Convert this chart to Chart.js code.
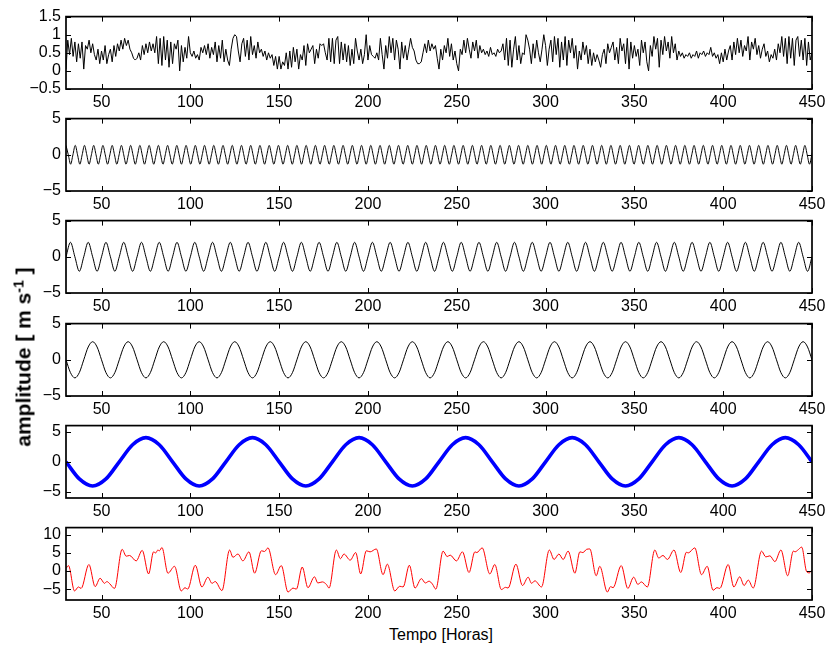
<!DOCTYPE html>
<html>
<head>
<meta charset="utf-8">
<script src="https://cdn.jsdelivr.net/npm/chart.js@4.4.1/dist/chart.umd.min.js"></script>
<style>
  html, body { margin: 0; padding: 0; background: #fff; }
  #wrap { position: relative; width: 831px; height: 650px; overflow: hidden;
          font-family: "Liberation Sans", Arial, Helvetica, sans-serif; color: #000; }
  #wrap canvas { position: absolute; left: 0; }
  #ylab { position: absolute; left: 23px; top: 357px; white-space: nowrap;
          transform: translate(-50%, -50%) rotate(-90deg);
          font-weight: bold; font-size: 21px; line-height: 21px; }
  #ylab sup { font-size: 14px; vertical-align: 7px; line-height: 0; }
  #xlab { position: absolute; left: 441px; top: 627px; white-space: nowrap;
          transform: translateX(-50%); font-size: 16px; line-height: 16px; }
</style>
</head>
<body>
<div id="wrap">
  <canvas id="p1" width="831" height="109"></canvas>
  <canvas id="p2" width="831" height="109"></canvas>
  <canvas id="p3" width="831" height="109"></canvas>
  <canvas id="p4" width="831" height="109"></canvas>
  <canvas id="p5" width="831" height="109"></canvas>
  <canvas id="p6" width="831" height="109"></canvas>
  <div id="ylab">amplitude [ m s<sup>-1</sup> ]</div>
  <div id="xlab">Tempo [Horas]</div>
</div>
<script>
// ---------- time axis ----------
const hourMin = 30;
const hourMax = 450;
const xTicks = [50, 100, 150, 200, 250, 300, 350, 400, 450];
const xTickLabels = ['50', '100', '150', '200', '250', '300', '350', '400', '450'];

// ---------- panel 1: hourly noise (30 h .. 450 h) ----------
const noiseStart = 30, noiseStep = 1;
const noiseValues = [
  0.05, 0.85, 0.45, 0.9, 0.4, 0.8, 0.25, 0.75, 0.35, 0.8,
  0.05, 0.7, 0.6, 0.85, 0.5, 0.75, 0.45, 0.3, 0.6, 0.2,
  0.55, 0.3, 0.7, 0.2, 0.45, 0.6, 0.25, 0.7, 0.4, 0.75,
  0.55, 0.85, 0.6, 0.9, 0.7, 0.85, 0.6, 0.5, 0.35, 0.3,
  0.35, 0.5, 0.3, 0.7, 0.45, 0.75, 0.5, 0.8, 0.55, 0.75,
  0.5, 0.95, 0.2, 0.9, 0.15, 0.95, 0.3, 0.85, 0.1, 0.8,
  0.2, 0.75, 0.6, 0.85, 0.0, 0.7, 0.25, 0.65, 0.35, 0.95,
  0.5, 0.4, 0.55, 0.35, 0.45, 0.3, 0.65, 0.5, 0.7, 0.45,
  0.75, 0.35, 0.65, 0.45, 0.8, 0.25, 0.7, 0.35, 0.85, 0.25,
  0.6, 0.3, 0.15, 0.6, 0.9, 1.0, 0.95, 0.55, 0.25, 0.75,
  0.9, 0.4, 0.85, 0.3, 0.95, 0.45, 0.7, 0.35, 0.8, 0.5,
  0.6, 0.4, 0.55, 0.3, 0.5, 0.35, 0.45, 0.15, 0.4, 0.05,
  0.4, 0.05, 0.25, 0.15, 0.5, 0.05, 0.55, 0.1, 0.65, 0.25,
  0.6, 0.05, 0.45, 0.3, 0.7, 0.15, 0.75, 0.5, 0.6, 0.7,
  0.2, 0.6, 0.35, 0.75, 0.7, 0.75, 0.5, 0.3, 0.9, 0.25,
  0.9, 0.2, 0.85, 0.95, 0.2, 0.8, 0.3, 0.75, 0.25, 0.7,
  0.15, 0.6, 0.2, 0.9, 0.55, 0.3, 0.6, 0.2, 0.45, 1.0,
  0.3, 0.7, 0.45, 0.4, 0.35, 0.5, 0.3, 0.9, 0.45, 0.05,
  0.7, 0.35, 0.95, 0.5, 0.9, 0.3, 0.85, 0.6, 0.05, 0.8,
  0.35, 0.7, 0.3, 0.6, 0.9, 0.65, 0.55, 0.3, 0.2, 0.2,
  0.25, 0.5, 0.75, 0.5, 0.85, 0.55, 0.75, 0.6, 0.7, 0.35,
  0.05, 0.6, 0.3, 0.7, 0.5, 0.9, 0.4, 0.75, 0.3, 0.55,
  0.2, 0.0, 0.6, 0.45, 0.85, 0.5, 0.9, 0.6, 0.35, 0.8,
  0.55, 0.85, 0.35, 0.7, 0.5, 0.6, 0.45, 0.55, 0.4, 0.65,
  0.45, 0.5, 0.4, 0.6, 0.5, 0.55, 0.75, 0.3, 0.9, 0.15,
  0.85, 0.1, 0.6, 0.95, 0.3, 0.7, 0.2, 0.5, 0.45, 1.0,
  0.85, 0.6, 0.2, 0.75, 0.35, 0.85, 0.5, 0.25, 0.6, 1.0,
  0.7, 0.15, 0.6, 0.85, 0.25, 0.95, 0.45, 0.9, 0.1, 0.8,
  0.3, 0.95, 0.15, 0.85, 0.5, 0.9, 0.35, 0.7, 0.05, 0.55,
  0.3, 0.8, 0.45, 0.7, 0.2, 0.6, 0.15, 0.5, 0.25, 0.45,
  0.3, 0.1, 0.45, 0.6, 0.2, 0.75, 0.5, 0.65, 0.8, 0.3,
  0.65, 0.2, 0.9, 0.55, 0.75, 0.2, 0.9, 0.05, 0.8, 0.35,
  0.7, 0.4, 0.6, 0.15, 0.85, 0.5, 0.8, 0.25, 0.0, 0.7,
  0.4, 0.95, 0.6, 0.9, 0.1, 0.85, 0.45, 0.95, 0.55, 0.8,
  0.35, 0.95, 0.5, 0.75, 0.3, 0.55, 0.4, 0.5, 0.35, 0.45,
  0.4, 0.5, 0.35, 0.45, 0.4, 0.55, 0.35, 0.5, 0.45, 0.55,
  0.4, 0.5, 0.45, 0.65, 0.4, 0.5, 0.35, 0.45, 0.2, 0.5,
  0.25, 0.6, 0.3, 0.55, 0.7, 0.3, 0.8, 0.45, 0.9, 0.5,
  0.85, 0.4, 0.7, 0.55, 0.95, 0.3, 0.8, 0.6, 0.9, 0.45,
  0.7, 0.35, 0.6, 0.75, 0.4, 0.55, 0.25, 0.45, 0.35, 0.6,
  0.3, 0.75, 0.5, 0.95, 0.4, 0.9, 0.2, 0.95, 0.35, 0.9,
  0.15, 0.85, 0.95, 0.4, 0.85, 0.3, 0.9, 0.15, 0.8, 0.3,
  0.5
];

// ---------- panel 2: short-period wave, peaks/zeros/troughs every 1.3 h ----------
const wave2Start = 30, wave2Step = 1.3;
const wave2Values = [
  1.3,0,-1.3,0, 1.3,0,-1.3,0, 1.3,0,-1.3,0, 1.3,0,-1.3,0,
  1.3,0,-1.3,0, 1.3,0,-1.3,0, 1.3,0,-1.3,0, 1.3,0,-1.3,0,
  1.3,0,-1.3,0, 1.3,0,-1.3,0, 1.3,0,-1.3,0, 1.3,0,-1.3,0,
  1.3,0,-1.3,0, 1.3,0,-1.3,0, 1.3,0,-1.3,0, 1.3,0,-1.3,0,
  1.3,0,-1.3,0, 1.3,0,-1.3,0, 1.3,0,-1.3,0, 1.3,0,-1.3,0,
  1.3,0,-1.3,0, 1.3,0,-1.3,0, 1.3,0,-1.3,0, 1.3,0,-1.3,0,
  1.3,0,-1.3,0, 1.3,0,-1.3,0, 1.3,0,-1.3,0, 1.3,0,-1.3,0,
  1.3,0,-1.3,0, 1.3,0,-1.3,0, 1.3,0,-1.3,0, 1.3,0,-1.3,0,
  1.3,0,-1.3,0, 1.3,0,-1.3,0, 1.3,0,-1.3,0, 1.3,0,-1.3,0,
  1.3,0,-1.3,0, 1.3,0,-1.3,0, 1.3,0,-1.3,0, 1.3,0,-1.3,0,
  1.3,0,-1.3,0, 1.3,0,-1.3,0, 1.3,0,-1.3,0, 1.3,0,-1.3,0,
  1.3,0,-1.3,0, 1.3,0,-1.3,0, 1.3,0,-1.3,0, 1.3,0,-1.3,0,
  1.3,0,-1.3,0, 1.3,0,-1.3,0, 1.3,0,-1.3,0, 1.3,0,-1.3,0,
  1.3,0,-1.3,0, 1.3,0,-1.3,0, 1.3,0,-1.3,0, 1.3,0,-1.3,0,
  1.3,0,-1.3,0, 1.3,0,-1.3,0, 1.3,0,-1.3,0, 1.3,0,-1.3,0,
  1.3,0,-1.3,0, 1.3,0,-1.3,0, 1.3,0,-1.3,0, 1.3,0,-1.3,0,
  1.3,0,-1.3,0, 1.3,0,-1.3,0, 1.3,0,-1.3,0, 1.3,0,-1.3,0,
  1.3,0,-1.3,0, 1.3,0,-1.3,0, 1.3,0,-1.3,0, 1.3,0,-1.3,0,
  1.3,0,-1.3,0, 1.3,0,-1.3,0, 1.3,0,-1.3,0, 1.3,0,-1.3,0,
  1.3,0,-1.3,0, 1.3,0,-1.3,0, 1.3,0,-1.3,0, 1.3,0,-1.3,0,
  1.3,0,-1.3,0, 1.3
];

// ---------- panel 3: 10 h wave, every 2.5 h ----------
const wave3Start = 30, wave3Step = 2.5;
const wave3Values = [
  0,2,0,-2, 0,2,0,-2, 0,2,0,-2, 0,2,0,-2,
  0,2,0,-2, 0,2,0,-2, 0,2,0,-2, 0,2,0,-2,
  0,2,0,-2, 0,2,0,-2, 0,2,0,-2, 0,2,0,-2,
  0,2,0,-2, 0,2,0,-2, 0,2,0,-2, 0,2,0,-2,
  0,2,0,-2, 0,2,0,-2, 0,2,0,-2, 0,2,0,-2,
  0,2,0,-2, 0,2,0,-2, 0,2,0,-2, 0,2,0,-2,
  0,2,0,-2, 0,2,0,-2, 0,2,0,-2, 0,2,0,-2,
  0,2,0,-2, 0,2,0,-2, 0,2,0,-2, 0,2,0,-2,
  0,2,0,-2, 0,2,0,-2, 0,2,0,-2, 0,2,0,-2,
  0,2,0,-2, 0,2,0,-2, 0,2,0,-2, 0,2,0,-2,
  0,2,0,-2, 0,2,0,-2,
  0
];

// ---------- panel 4: 20 h wave, every 2.5 h ----------
const wave4Start = 30, wave4Step = 2.5;
const wave4Values = [
  0,-1.77,-2.5,-1.77,0,1.77,2.5,1.77, 0,-1.77,-2.5,-1.77,0,1.77,2.5,1.77,
  0,-1.77,-2.5,-1.77,0,1.77,2.5,1.77, 0,-1.77,-2.5,-1.77,0,1.77,2.5,1.77,
  0,-1.77,-2.5,-1.77,0,1.77,2.5,1.77, 0,-1.77,-2.5,-1.77,0,1.77,2.5,1.77,
  0,-1.77,-2.5,-1.77,0,1.77,2.5,1.77, 0,-1.77,-2.5,-1.77,0,1.77,2.5,1.77,
  0,-1.77,-2.5,-1.77,0,1.77,2.5,1.77, 0,-1.77,-2.5,-1.77,0,1.77,2.5,1.77,
  0,-1.77,-2.5,-1.77,0,1.77,2.5,1.77, 0,-1.77,-2.5,-1.77,0,1.77,2.5,1.77,
  0,-1.77,-2.5,-1.77,0,1.77,2.5,1.77, 0,-1.77,-2.5,-1.77,0,1.77,2.5,1.77,
  0,-1.77,-2.5,-1.77,0,1.77,2.5,1.77, 0,-1.77,-2.5,-1.77,0,1.77,2.5,1.77,
  0,-1.77,-2.5,-1.77,0,1.77,2.5,1.77, 0,-1.77,-2.5,-1.77,0,1.77,2.5,1.77,
  0,-1.77,-2.5,-1.77,0,1.77,2.5,1.77, 0,-1.77,-2.5,-1.77,0,1.77,2.5,1.77,
  0,-1.77,-2.5,-1.77,0,1.77,2.5,1.77,
  0
];

// ---------- panel 5: 60 h wave, every 7.5 h ----------
const wave5Start = 30, wave5Step = 7.5;
const wave5Values = [
  0,-2.83,-4,-2.83,0,2.83,4,2.83,
  0,-2.83,-4,-2.83,0,2.83,4,2.83,
  0,-2.83,-4,-2.83,0,2.83,4,2.83,
  0,-2.83,-4,-2.83,0,2.83,4,2.83,
  0,-2.83,-4,-2.83,0,2.83,4,2.83,
  0,-2.83,-4,-2.83,0,2.83,4,2.83,
  0,-2.83,-4,-2.83,0,2.83,4,2.83,
  0
];

// ---------- panel 6: combined signal, turning points ----------
const totalHours = [
  30, 31.4, 34.8, 37.0, 38.5, 42.9, 46.4, 49.2, 51.7, 53.0, 54.6, 57.3,
  61.6, 63.9, 65.8, 69.5, 72.9, 76.5, 79.3, 80.5, 81.7, 82.6, 84.0, 87.4, 91.1,
  94.9, 97.0, 98.5, 102.8, 106.5, 109.9, 112.2, 114.0, 117.8,
  122.1, 124.0, 126.8, 129.6, 133.0, 136.2, 140.0, 141.8, 143.7, 148.0, 151.2,
  155.0, 157.8, 159.7, 163.0, 166.2, 169.9, 171.8, 174.3, 176.6, 178.1,
  182.2, 184.5, 186.5, 190.0, 193.1, 195.9, 199.1, 201.2, 204.7, 208.5, 210.9,
  215.1, 217.9, 219.8, 223.3, 226.5, 230.1, 232.3, 234.4, 236.3, 238.2,
  242.3, 244.6, 246.3, 249.8, 253.2, 256.9, 260.2, 261.3, 264.3, 268.6, 271.4,
  275.1, 277.5, 278.9, 283.3, 287.0, 290.2, 292.1, 294.0, 297.7,
  302.1, 304.8, 307.5, 309.9, 312.7, 316.5, 319.3, 321.0, 323.1, 324.9, 328.5, 330.5,
  334.8, 336.6, 338.0, 342.6, 346.3, 349.6, 352.0, 353.9, 357.3,
  361.5, 363.7, 366.1, 368.6, 372.3, 376.1, 379.3, 380.3, 384.0, 387.8, 391.0,
  394.3, 396.5, 398.1, 402.8, 406.0, 409.3, 411.8, 414.1, 416.9,
  421.6, 424.0, 426.3, 429.1, 432.5, 436.3, 439.5, 440.5, 441.8, 444.2, 447.0, 448.5, 450
];
const totalValues = [
  0.7, 1.5, -5.5, -4.4, -4.8, 1.8, -4.3, -2.0, -3.4, -2.9, -3.5, -4.8,
  6.0, 4.1, 4.3, 2.8, 5.7, -0.8, 5.3, 5.0, 5.8, 5.6, 6.5, -0.6, 1.3,
  -5.5, -4.6, -5.0, 1.6, -4.4, -1.7, -3.4, -2.9, -5.4,
  5.8, 3.8, 4.7, 2.8, 5.3, -0.6, 5.6, 5.4, 6.4, -1.0, 1.5,
  -5.8, -4.7, -5.0, 1.1, -4.6, -1.6, -3.3, -3.0, -3.7, -4.7,
  5.8, 3.4, 4.7, 3.0, 5.1, -0.8, 5.6, 5.3, 6.1, -1.0, 1.9,
  -5.5, -4.2, -4.4, 1.6, -4.7, -2.1, -3.3, -2.8, -3.6, -5.0,
  5.5, 4.0, 4.4, 2.8, 5.3, -0.4, 5.3, 5.1, 6.4, -0.8, 1.8,
  -5.1, -4.5, -4.7, 1.9, -4.0, -1.7, -3.4, -2.7, -4.4,
  5.8, 3.2, 4.7, 3.2, 5.5, -0.6, 5.3, 5.1, 6.0, 6.1, -1.3, 1.3,
  -5.8, -4.3, -4.6, 1.5, -4.8, -1.7, -3.7, -3.0, -4.4,
  5.8, 3.6, 4.3, 3.2, 5.8, -0.4, 5.2, 5.0, 6.4, -1.0, 1.3,
  -5.3, -4.6, -4.8, 1.8, -4.4, -1.6, -4.0, -2.5, -4.7,
  5.5, 3.9, 4.2, 2.6, 5.8, -1.3, 5.5, 5.3, 5.7, 6.6, -0.2, -0.5, 0.3
];

// ---------- y axes ----------
const yTicks1 = [-0.5, 0, 0.5, 1, 1.5];
const yLabels1 = ['\u22120.5', '0', '0.5', '1', '1.5'];
const yTicksWave = [-5, 0, 5];
const yLabelsWave = ['\u22125', '0', '5'];
const yTicks6 = [-5, 0, 5, 10];
const yLabels6 = ['\u22125', '0', '5', '10'];

// ---------- drawing ----------
const TICK_LEN = 5;
const tickFont = { family: '"Liberation Sans", Arial, Helvetica, sans-serif', size: 16 };

const boxAndTicks = {
  id: 'boxAndTicks',
  afterDatasetsDraw(chart) {
    const { ctx, chartArea: a, scales } = chart;
    const xs = scales.x, ys = scales.y;
    ctx.save();
    ctx.strokeStyle = '#000';
    ctx.lineWidth = 1;
    ctx.beginPath();
    xs.ticks.forEach(t => {
      const px = Math.round(xs.getPixelForValue(t.value)) + 0.5;
      ctx.moveTo(px, a.top); ctx.lineTo(px, a.top + TICK_LEN);
      ctx.moveTo(px, a.bottom); ctx.lineTo(px, a.bottom - TICK_LEN);
    });
    ys.ticks.forEach(t => {
      const py = Math.round(ys.getPixelForValue(t.value)) + 0.5;
      ctx.moveTo(a.left, py); ctx.lineTo(a.left + TICK_LEN, py);
      ctx.moveTo(a.right, py); ctx.lineTo(a.right - TICK_LEN, py);
    });
    ctx.stroke();
    ctx.lineWidth = 1.7;
    ctx.strokeRect(a.left, a.top, a.right - a.left, a.bottom - a.top);
    ctx.restore();
  }
};

function toPoints(start, step, values) {
  return values.map((v, i) => ({ x: start + i * step, y: v }));
}

function panel(id, top, points, cfg) {
  const canvas = document.getElementById(id);
  canvas.style.top = (top - 10) + 'px';
  return new Chart(canvas, {
    type: 'line',
    data: {
      datasets: [{
        data: points,
        borderColor: cfg.color,
        borderWidth: cfg.width,
        pointRadius: 0,
        tension: 0,
        cubicInterpolationMode: cfg.smooth ? 'monotone' : 'default',
        borderJoinStyle: 'round',
        clip: 0,
        fill: false
      }]
    },
    options: {
      responsive: false,
      animation: false,
      devicePixelRatio: 1,
      events: [],
      layout: { padding: { top: 10, right: 19, left: 0, bottom: 0 } },
      plugins: { legend: { display: false }, tooltip: { enabled: false } },
      scales: {
        x: {
          type: 'linear', min: hourMin, max: hourMax,
          afterBuildTicks: s => { s.ticks = xTicks.map(v => ({ value: v })); },
          afterFit: s => { s.height = 22; },
          grid: { display: false, drawTicks: false },
          border: { display: false },
          ticks: { font: tickFont, color: '#000', padding: 4, maxRotation: 0, autoSkip: false,
                   callback: (v, i) => xTickLabels[i] }
        },
        y: {
          type: 'linear', min: cfg.min, max: cfg.max,
          afterBuildTicks: s => { s.ticks = cfg.ticks.map(v => ({ value: v })); },
          afterFit: s => { s.width = 66; },
          grid: { display: false, drawTicks: false },
          border: { display: false },
          ticks: { font: tickFont, color: '#000', padding: 5, autoSkip: false,
                   callback: (v, i) => cfg.labels[i] }
        }
      }
    },
    plugins: [boxAndTicks]
  });
}

panel('p1', 12,  toPoints(noiseStart, noiseStep, noiseValues),
      { color: '#000', width: 1, smooth: false, min: -0.5, max: 1.5, ticks: yTicks1, labels: yLabels1 });
panel('p2', 114, toPoints(wave2Start, wave2Step, wave2Values),
      { color: '#000', width: 1, smooth: true, min: -5, max: 5, ticks: yTicksWave, labels: yLabelsWave });
panel('p3', 216, toPoints(wave3Start, wave3Step, wave3Values),
      { color: '#000', width: 1, smooth: true, min: -5, max: 5, ticks: yTicksWave, labels: yLabelsWave });
panel('p4', 319, toPoints(wave4Start, wave4Step, wave4Values),
      { color: '#000', width: 1, smooth: true, min: -5, max: 5, ticks: yTicksWave, labels: yLabelsWave });
panel('p5', 421, toPoints(wave5Start, wave5Step, wave5Values),
      { color: '#0000ff', width: 3.6, smooth: true, min: -6, max: 6, ticks: yTicksWave, labels: yLabelsWave });
panel('p6', 523, totalHours.map((h, i) => ({ x: h, y: totalValues[i] })),
      { color: '#ff0000', width: 1, smooth: true, min: -8, max: 12, ticks: yTicks6, labels: yLabels6 });
</script>
</body>
</html>
